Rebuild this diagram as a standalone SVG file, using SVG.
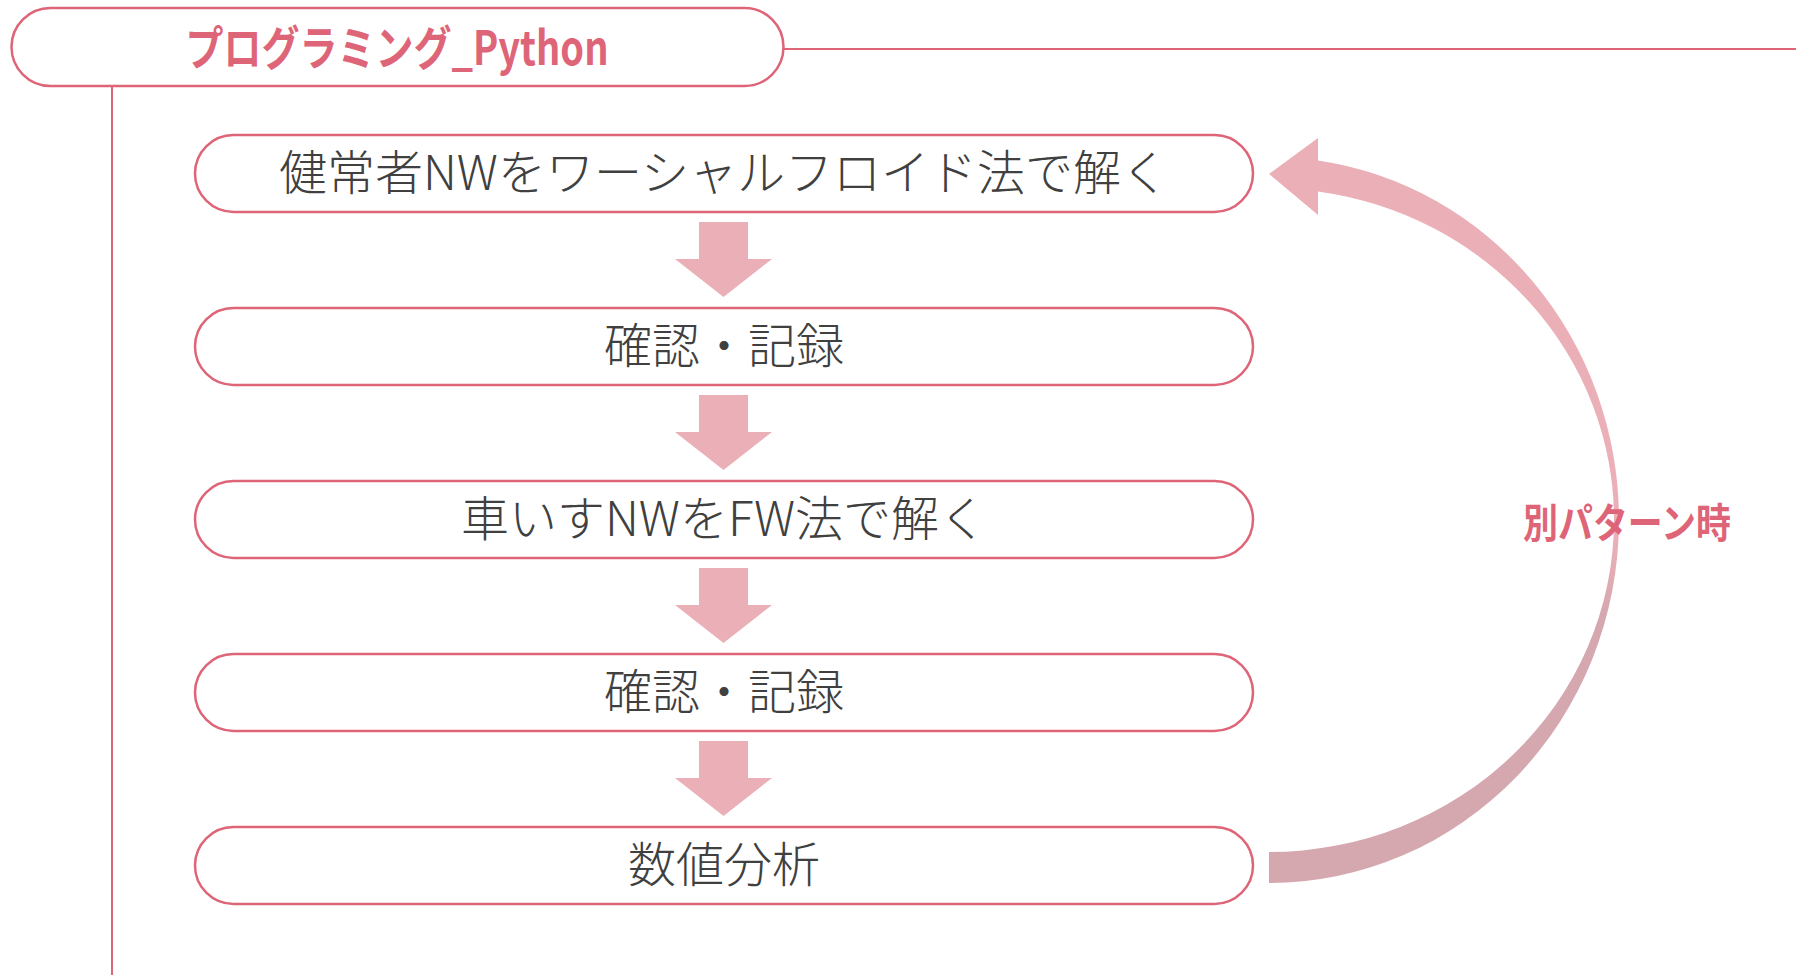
<svg xmlns="http://www.w3.org/2000/svg" width="1796" height="975" viewBox="0 0 1796 975">
  <style>
    .frame { fill: #ffffff; stroke: #de6577; stroke-width: 2.5; }
    .line { fill: none; stroke: #de6577; stroke-width: 2; }
    .step { fill: #ffffff; stroke: #de6577; stroke-width: 2.5; }
    .steptext { font-family: "Noto Sans CJK JP", "Noto Sans", sans-serif; font-weight: 300; font-size: 48px; fill: #404040; text-anchor: middle; }
    .title { font-family: "Noto Sans CJK JP", "Noto Sans", sans-serif; font-weight: 700; font-size: 47px; fill: #de6577; text-anchor: middle; }
    .label { font-family: "Noto Sans CJK JP", "Noto Sans", sans-serif; font-weight: 700; font-size: 41px; fill: #de6577; text-anchor: middle; }
    .down { fill: #ebb0b7; }
  </style>
  <defs>
    <linearGradient id="loopGrad" gradientUnits="userSpaceOnUse" x1="0" y1="138" x2="0" y2="883">
      <stop offset="0" stop-color="#ebb0b7"/>
      <stop offset="0.54" stop-color="#ebb0b7"/>
      <stop offset="0.64" stop-color="#d5a7af"/>
      <stop offset="1" stop-color="#d5a7af"/>
    </linearGradient>
  </defs>

  <g id="connectors">
    <line class="line" x1="783.5" y1="49" x2="1796" y2="49"/>
    <line class="line" x1="112" y1="86" x2="112" y2="975"/>
    <path id="down1" class="down" d="M699 222 H748 V259 H772 L723.5 297 L675 259 H699 Z"/>
    <path id="down2" class="down" d="M699 395 H748 V432 H772 L723.5 470 L675 432 H699 Z"/>
    <path id="down3" class="down" d="M699 568 H748 V605 H772 L723.5 643 L675 605 H699 Z"/>
    <path id="down4" class="down" d="M699 741 H748 V778 H772 L723.5 816 L675 778 H699 Z"/>
    <path id="loop" fill="url(#loopGrad)" d="M1269 883 A350 363 0 0 0 1619 520 A350 363 0 0 0 1318 160.6 L1318 138 L1269 174 L1318 215 L1318 191.4 A345 332 0 0 1 1614 520 A345 332 0 0 1 1269 852 Z"/>
  </g>

  <g id="header">
    <rect class="frame" x="11.5" y="8" width="772" height="78" rx="39" ry="39"/>
    <text class="title" x="397" y="65" textLength="423" lengthAdjust="spacingAndGlyphs">プログラミング_Python</text>
  </g>

  <g id="step1">
    <rect class="step" x="195" y="135" width="1058" height="77" rx="38.5" ry="38.5"/>
    <text class="steptext" x="724" y="190">健常者NWをワーシャルフロイド法で解く</text>
  </g>
  <g id="step2">
    <rect class="step" x="195" y="308" width="1058" height="77" rx="38.5" ry="38.5"/>
    <text class="steptext" x="724" y="363">確認・記録</text>
  </g>
  <g id="step3">
    <rect class="step" x="195" y="481" width="1058" height="77" rx="38.5" ry="38.5"/>
    <text class="steptext" x="724" y="536">車いすNWをFW法で解く</text>
  </g>
  <g id="step4">
    <rect class="step" x="195" y="654" width="1058" height="77" rx="38.5" ry="38.5"/>
    <text class="steptext" x="724" y="709">確認・記録</text>
  </g>
  <g id="step5">
    <rect class="step" x="195" y="827" width="1058" height="77" rx="38.5" ry="38.5"/>
    <text class="steptext" x="724" y="882">数値分析</text>
  </g>

  <g id="loop-label">
    <text class="label" x="1627" y="538" textLength="208" lengthAdjust="spacingAndGlyphs">別パターン時</text>
  </g>
</svg>
